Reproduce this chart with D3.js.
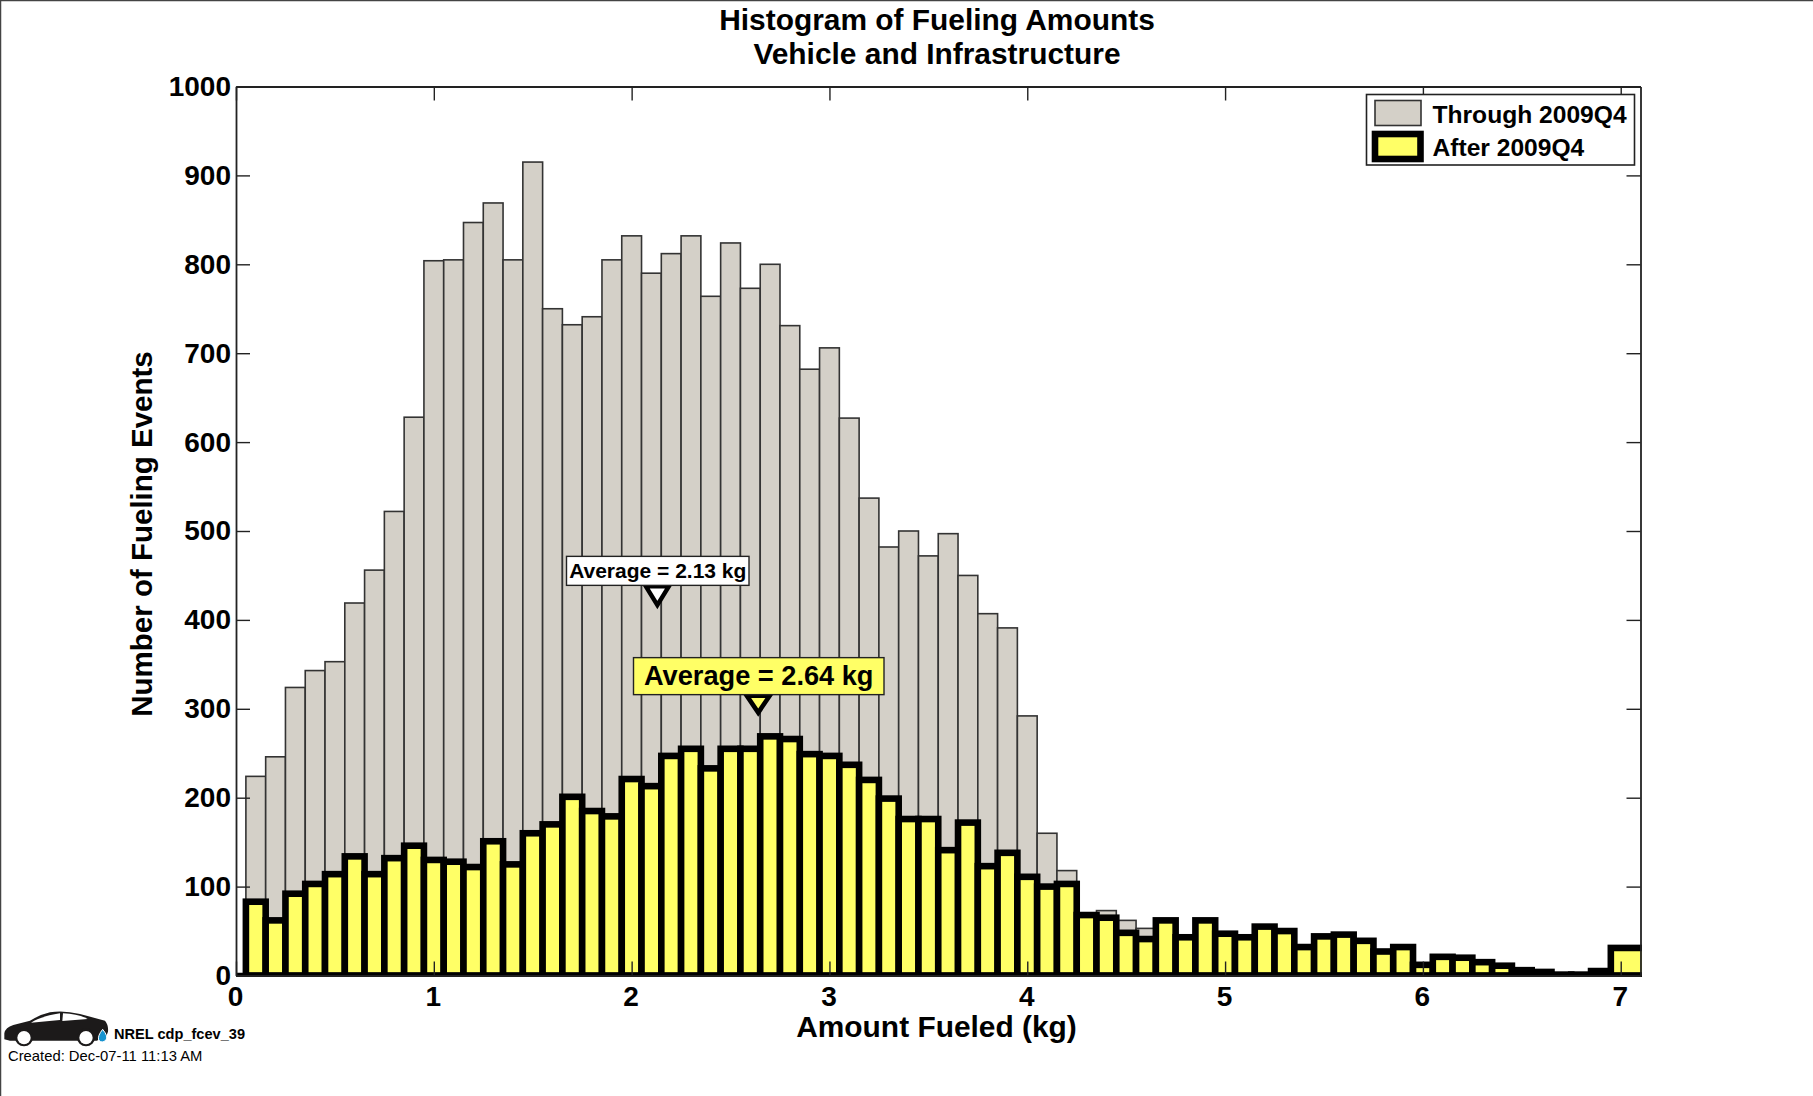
<!DOCTYPE html>
<html><head><meta charset="utf-8">
<script src="https://cdn.jsdelivr.net/npm/d3@7"></script>
<style>
html,body{margin:0;padding:0;background:#fff;overflow:hidden}
text{font-family:"Liberation Sans",Arial,sans-serif;fill:#000}
.b{font-weight:bold}
</style></head><body><div id="c"></div>
<script>
const titleLines = ["Histogram of Fueling Amounts","Vehicle and Infrastructure"];
const xLabel = "Amount Fueled (kg)";
const yLabel = "Number of Fueling Events";
const xTicks = [0,1,2,3,4,5,6,7];
const yTicks = [0,100,200,300,400,500,600,700,800,900,1000];
const binCenters = d3.range(1,71).map(i=>i/10);
const through2009 = [224,246,324,343,353,419,456,522,628,804,805,847,869,805,915,750,732,741,805,832,790,812,832,764,824,773,800,731,682,706,627,537,482,500,472,497,450,407,391,292,160,118,62,73,62,53,40,30,25,20,18,15,12,10,10,8,8,6,6,4,4,3,2,2,1,1,0,0,0,0];
const after2009 = [83,62,92,103,114,134,114,132,146,130,128,122,151,125,160,170,201,185,179,221,213,247,255,233,255,255,269,266,249,247,237,220,199,176,176,141,172,123,138,111,100,103,68,65,48,41,62,43,62,47,43,55,50,32,44,46,39,27,32,12,21,20,15,11,6,4,1,1,5,31];
const seriesNames = ["Through 2009Q4","After 2009Q4"];
const averages = [
  {label:"Average = 2.13 kg", x:2.13, tip:415},
  {label:"Average = 2.64 kg", x:2.64, tip:294}
];
const noteId = "NREL cdp_fcev_39";
const noteDate = "Created: Dec-07-11 11:13 AM";

const W=1813,H=1096;
const L=236,R=1640.5,T=86.5,B=975.5;
const svg=d3.select("#c").append("svg").attr("width",W).attr("height",H).style("display","block");
svg.append("rect").attr("width",W).attr("height",H).attr("fill","#fff");
svg.append("path").attr("d",`M0.5,${H}V0.5H${W}`).attr("fill","none").attr("stroke","#444").attr("stroke-width",1.5);

const x=d3.scaleLinear().domain([0,7.1]).range([L,R]);
const y=d3.scaleLinear().domain([0,1000]).range([B,T]);
const half=0.05;

svg.append("defs").append("clipPath").attr("id","plot").append("rect")
  .attr("x",L).attr("y",T).attr("width",R-L+1.5).attr("height",B-T+1.2);
const plot=svg.append("g").attr("clip-path","url(#plot)");

plot.append("g").selectAll("rect").data(binCenters).join("rect")
  .attr("x",d=>x(d-half)).attr("width",d=>x(d+half)-x(d-half))
  .attr("y",(d,i)=>y(through2009[i])).attr("height",(d,i)=>y(0)-y(through2009[i]))
  .attr("fill","#d4d0c8").attr("stroke","#333").attr("stroke-width",1.6);

const lastC=binCenters[binCenters.length-1];
plot.append("g").selectAll("rect").data(binCenters).join("rect")
  .attr("x",d=>x(d-half))
  .attr("width",d=>(d===lastC?x(7.3):x(d+half))-x(d-half))
  .attr("y",(d,i)=>y(after2009[i])).attr("height",(d,i)=>y(0)-y(after2009[i]))
  .attr("fill","#ffff66").attr("stroke","#000").attr("stroke-width",6.6);

plot.append("line").attr("x1",L).attr("x2",R+2).attr("y1",y(0)).attr("y2",y(0))
  .attr("stroke","#000").attr("stroke-width",5.5);

function style(g,fs){
  g.select(".domain").attr("stroke","#222").attr("stroke-width",1.8);
  g.selectAll(".tick line").attr("stroke","#222").attr("stroke-width",1.4);
  g.selectAll(".tick text").attr("class","b").style("font-size",fs+"px").style("font-family",'"Liberation Sans",Arial,sans-serif').attr("fill","#000");
}
const bottom=svg.append("g").attr("transform",`translate(0,${B})`)
  .call(d3.axisBottom(x).tickValues(xTicks).tickFormat(d3.format("d")).tickSizeInner(-14).tickSizeOuter(0).tickPadding(11));
style(bottom,28);
bottom.selectAll(".tick text").attr("dx",-1);
const left=svg.append("g").attr("transform",`translate(${L},0)`)
  .call(d3.axisLeft(y).tickValues(yTicks).tickFormat(d3.format("d")).tickSizeInner(-14).tickSizeOuter(0).tickPadding(5));
style(left,28);
const topA=svg.append("g").attr("transform",`translate(0,${T})`)
  .call(d3.axisTop(x).tickValues(xTicks).tickFormat("").tickSizeInner(-14).tickSizeOuter(0));
style(topA,28);
const rightA=svg.append("g").attr("transform",`translate(${R},0)`)
  .call(d3.axisRight(y).tickValues(yTicks).tickFormat("").tickSizeInner(-14).tickSizeOuter(0));
style(rightA,28);

// titles
svg.append("g").selectAll("text").data(titleLines).join("text")
  .attr("class","b").attr("x",937).attr("y",(d,i)=>30+i*33.6)
  .attr("text-anchor","middle").style("font-size","29.9px").text(d=>d);
svg.append("text").attr("class","b").attr("x",936.5).attr("y",1037).attr("text-anchor","middle")
  .style("font-size","29.9px").text(xLabel);
svg.append("text").attr("class","b").attr("transform","translate(152,534) rotate(-90)")
  .attr("text-anchor","middle").style("font-size","29.5px").text(yLabel);

// legend
const lg=svg.append("g");
lg.append("rect").attr("x",1366.5).attr("y",94.5).attr("width",268).attr("height",70.5)
  .attr("fill","#fff").attr("stroke","#222").attr("stroke-width",1.6);
lg.append("rect").attr("x",1375).attr("y",100.5).attr("width",46).attr("height",25)
  .attr("fill","#d4d0c8").attr("stroke","#333").attr("stroke-width",1.6);
lg.append("rect").attr("x",1375).attr("y",134).attr("width",45.5).attr("height",25)
  .attr("fill","#ffff66").attr("stroke","#000").attr("stroke-width",6.6);
lg.selectAll("text").data(seriesNames).join("text").attr("class","b")
  .attr("x",1432.5).attr("y",(d,i)=>123+i*33).style("font-size","24.6px").text(d=>d);

// average callouts
const boxes=[
  {w:182.5,h:29,fs:21,fill:"#fff",bx:566},
  {w:250.5,h:37,fs:27.2,fill:"#ffff66",bx:633}
];
const tipH=[21.7,20];
averages.forEach((a,i)=>{
  const b=boxes[i], px=x(a.x), tip=y(a.tip), top=tip-tipH[i];
  const g=svg.append("g");
  g.append("path")
    .attr("d",`M${px-11.5},${top+1.5}H${px+11.5}L${px},${tip-1.5}Z`)
    .attr("fill",b.fill).attr("stroke","#000").attr("stroke-width",4.5).attr("stroke-linejoin","miter");
  g.append("rect").attr("x",b.bx+.5).attr("y",top-b.h+.5).attr("width",b.w).attr("height",b.h)
    .attr("fill",b.fill).attr("stroke","#222").attr("stroke-width",1.4);
  g.append("text").attr("class","b").attr("x",b.bx+b.w/2+.5).attr("y",top-b.h/2+b.fs*.36)
    .attr("text-anchor","middle").style("font-size",b.fs+"px").text(a.label);
});

// logo
const car=svg.append("g").attr("transform","translate(0,980) scale(0.3333)");
car.append("path").attr("fill","#1c1a1a")
 .attr("d","M13,178 L13,160 Q16,142 40,135 L90,122 Q120,104 150,97 Q190,90 240,102 L315,122 Q326,135 324,155 L318,170 L290,182 L30,182 Z");
car.append("path").attr("fill","#fff").attr("d","M93,128 Q120,110 180,100 L180,120 Z");
car.append("path").attr("fill","#fff").attr("d","M189,100 Q235,102 263,117 L187,123 Z");
car.selectAll("circle.ring").data([72,258]).join("circle").attr("class","ring").attr("cx",d=>d).attr("cy",172)
  .attr("r",27).attr("fill","#1c1a1a");
car.selectAll("circle.hub").data([72,258]).join("circle").attr("class","hub").attr("cx",d=>d).attr("cy",173)
  .attr("r",20).attr("fill","#fff");
car.append("path").attr("fill","#1793cf").attr("stroke","#fff").attr("stroke-width",3)
 .attr("d","M308,148 Q326,170 318,180 Q306,192 296,180 Q292,168 308,148 Z");
svg.append("text").attr("class","b").attr("x",114).attr("y",1039).attr("textLength",131)
  .attr("lengthAdjust","spacingAndGlyphs").style("font-size","15px").text(noteId);
svg.append("text").attr("x",8).attr("y",1060.5).style("font-size","14.8px").text(noteDate);
</script></body></html>
